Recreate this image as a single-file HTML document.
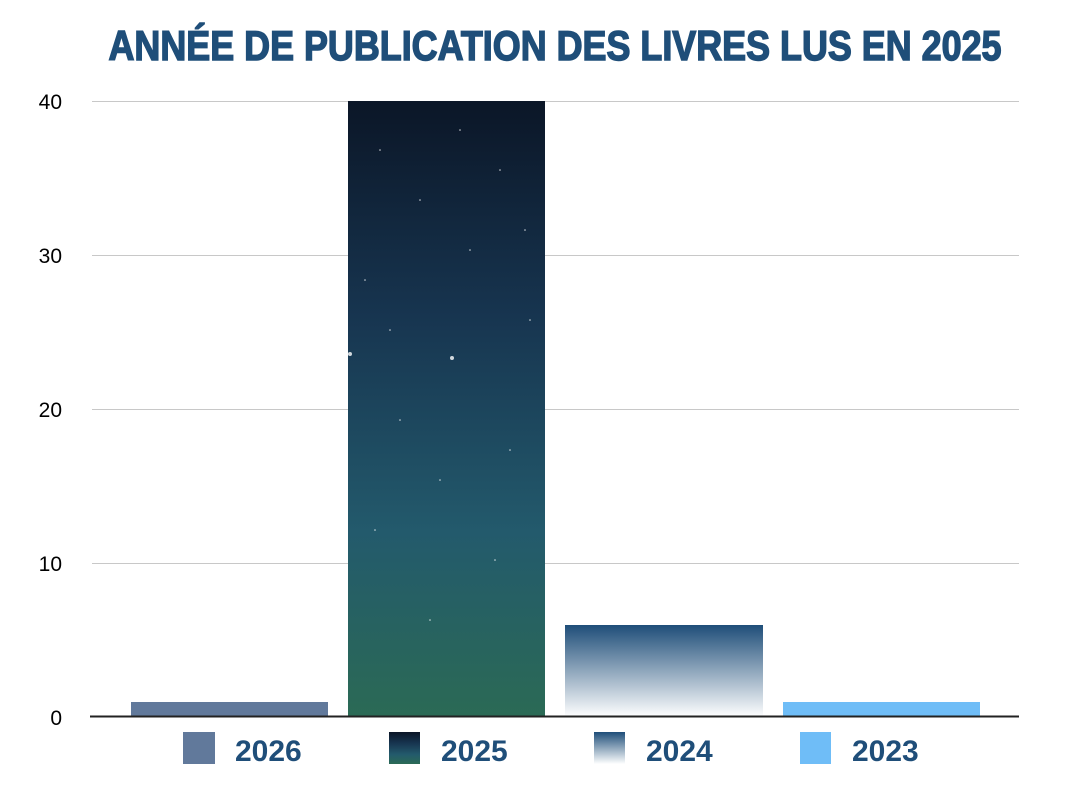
<!DOCTYPE html>
<html><head><meta charset="utf-8"><style>
body{margin:0;background:#fff;width:1076px;height:790px;overflow:hidden}
</style></head><body>
<svg width="1076" height="790" viewBox="0 0 1076 790" xmlns="http://www.w3.org/2000/svg">
<defs>
<linearGradient id="night" x1="0" y1="0" x2="0" y2="1">
<stop offset="0" stop-color="#0b1627"/>
<stop offset="0.35" stop-color="#173550"/>
<stop offset="0.7" stop-color="#235a6c"/>
<stop offset="1" stop-color="#2b6a55"/>
</linearGradient>
<linearGradient id="fade" x1="0" y1="0" x2="0" y2="1">
<stop offset="0" stop-color="#1f4e79"/>
<stop offset="1" stop-color="#ffffff"/>
</linearGradient>
</defs>
<text x="555" y="60" text-anchor="middle" textLength="893" lengthAdjust="spacingAndGlyphs" font-family="Liberation Sans, sans-serif" font-weight="bold" font-size="42" fill="#1f4e79" stroke="#1f4e79" stroke-width="1.5">ANNÉE DE PUBLICATION DES LIVRES LUS EN 2025</text>
<g stroke="#c8c8c8" stroke-width="1">
<line x1="92" y1="101.5" x2="1019" y2="101.5"/>
<line x1="92" y1="255.5" x2="1019" y2="255.5"/>
<line x1="92" y1="409.5" x2="1019" y2="409.5"/>
<line x1="92" y1="563.5" x2="1019" y2="563.5"/>
</g>
<g font-family="Liberation Sans, sans-serif" font-size="21" fill="#000" text-anchor="end">
<text x="62" y="109">40</text>
<text x="62" y="263">30</text>
<text x="62" y="417">20</text>
<text x="62" y="571">10</text>
<text x="62" y="725">0</text>
</g>
<rect x="131" y="702" width="197" height="15" fill="#61799b"/>
<rect x="348" y="101" width="197" height="616" fill="url(#night)"/>
<g fill="#fff" opacity="0.8">
<circle cx="452" cy="358" r="2"/><circle cx="350" cy="354" r="2"/>
<circle cx="380" cy="150" r="0.8"/><circle cx="420" cy="200" r="0.8"/><circle cx="500" cy="170" r="0.8"/>
<circle cx="365" cy="280" r="0.8"/><circle cx="470" cy="250" r="0.8"/><circle cx="530" cy="320" r="0.8"/>
<circle cx="400" cy="420" r="0.8"/><circle cx="440" cy="480" r="0.8"/><circle cx="510" cy="450" r="0.8"/>
<circle cx="375" cy="530" r="0.8"/><circle cx="495" cy="560" r="0.8"/><circle cx="430" cy="620" r="0.8"/>
<circle cx="390" cy="330" r="0.8"/><circle cx="525" cy="230" r="0.8"/><circle cx="460" cy="130" r="0.8"/>
</g>
<rect x="565" y="625" width="198" height="92" fill="url(#fade)"/>
<rect x="783" y="702" width="197" height="15" fill="#6fbdf7"/>
<line x1="90" y1="716.5" x2="1019" y2="716.5" stroke="#222" stroke-width="2"/>
<rect x="183" y="732" width="32" height="32" fill="#61799b"/>
<rect x="389" y="732" width="31" height="32" fill="url(#night)"/>
<rect x="594" y="732" width="31" height="32" fill="url(#fade)"/>
<rect x="800" y="732" width="31" height="32" fill="#6fbdf7"/>
<g font-family="Liberation Sans, sans-serif" font-weight="bold" font-size="30" fill="#1f4e79">
<text x="235" y="761">2026</text>
<text x="441" y="761">2025</text>
<text x="646" y="761">2024</text>
<text x="852" y="761">2023</text>
</g>
</svg>
</body></html>
